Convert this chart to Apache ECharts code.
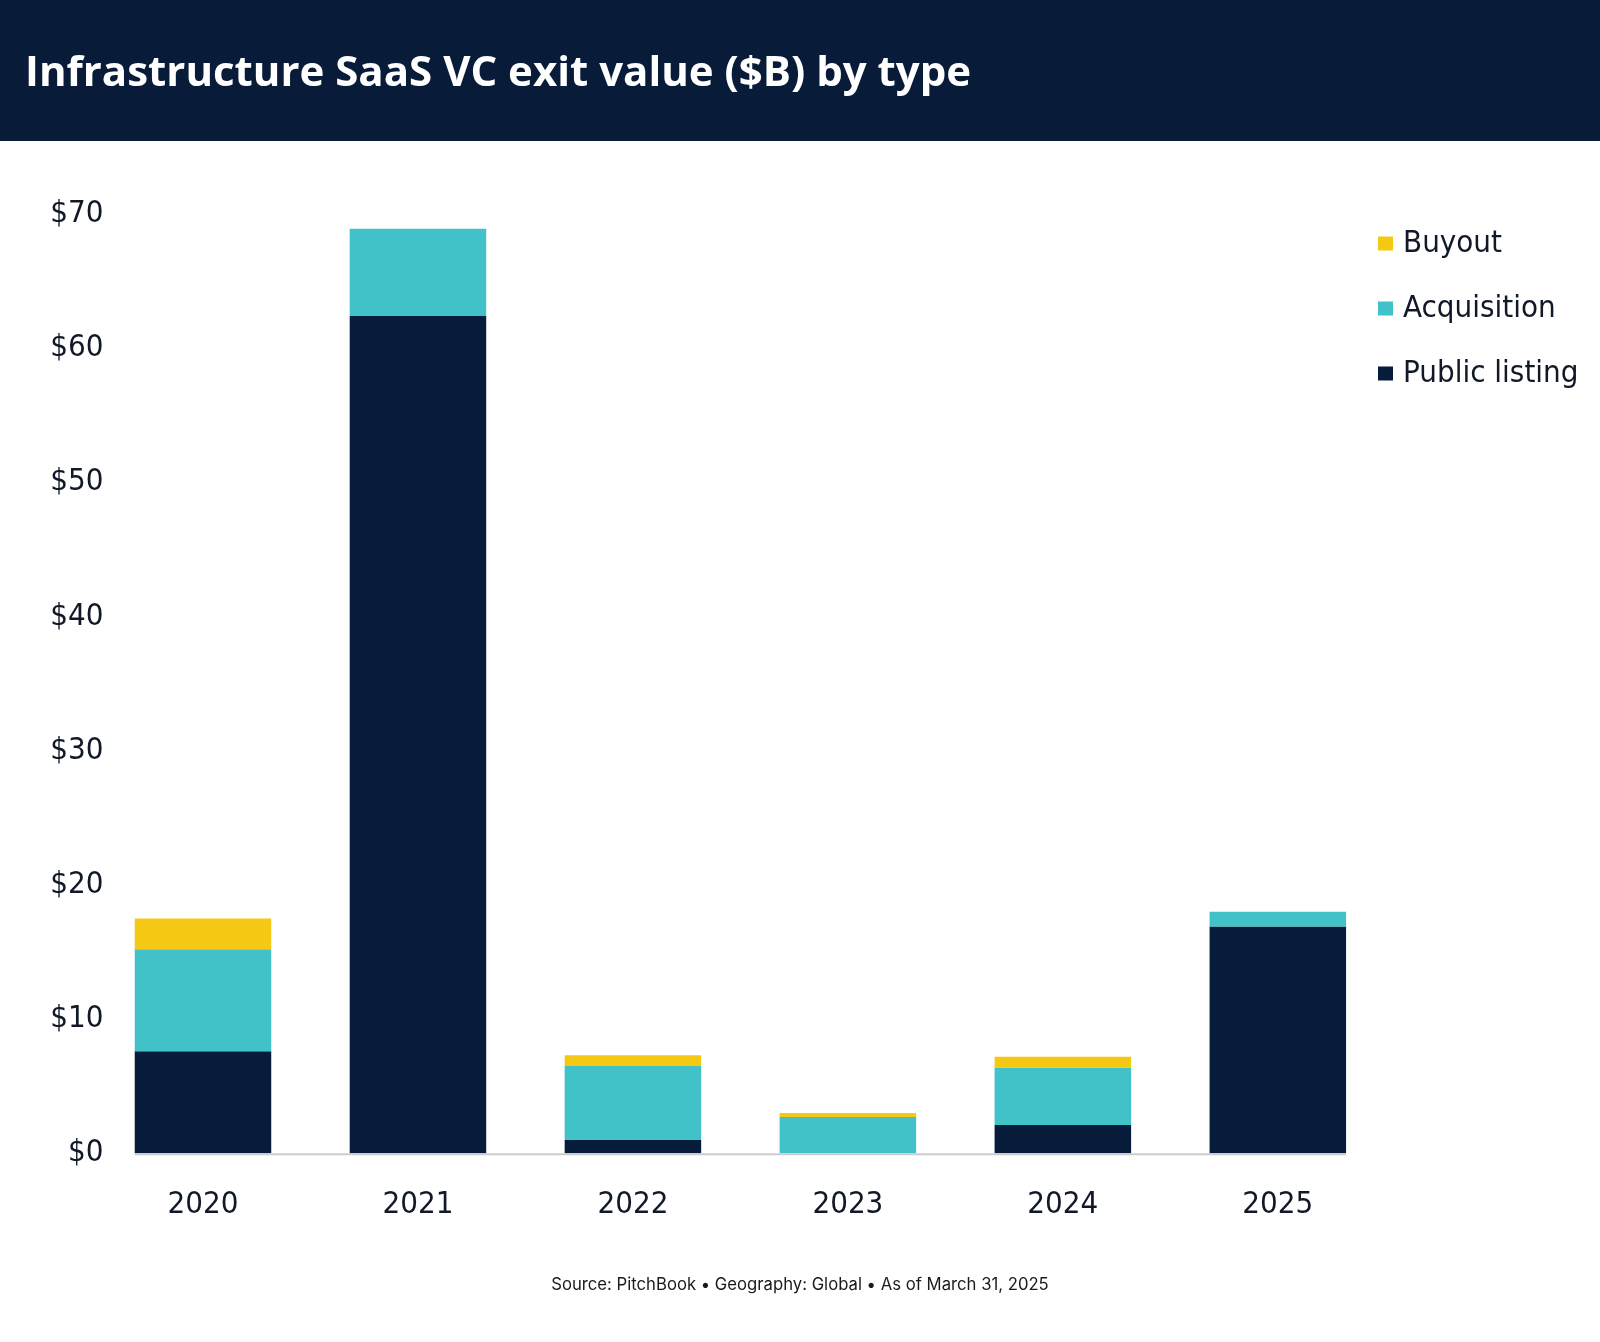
<!DOCTYPE html>
<html>
<head>
<meta charset="utf-8">
<script src="https://cdn.jsdelivr.net/npm/echarts@6/dist/echarts.min.js"></script>
<style>
html,body{margin:0;padding:0;background:#fff;}
#c{width:1600px;height:1342px;}
</style>
</head>
<body>
<div id="c"></div>
<script>
const titleText = 'Infrastructure SaaS VC exit value ($B) by type';
const sourceText = 'Source: PitchBook \u2022 Geography: Global \u2022 As of March 31, 2025';
const years = ['2020', '2021', '2022', '2023', '2024', '2025'];
const publicListing = [7.6, 62.4, 1.0, 0, 2.1, 16.9];
const acquisition = [7.6, 6.5, 5.5, 2.7, 4.3, 1.1];
const buyout = [2.3, 0, 0.8, 0.3, 0.8, 0];
const seriesNames = ['Public listing', 'Acquisition', 'Buyout'];
const legendOrder = ['Buyout', 'Acquisition', 'Public listing'];
const yMin = 0, yMax = 70, yStep = 10;

const NAVY = '#071b3a', TEAL = '#41c2c8', YELLOW = '#f5c813';
const NARROW = "'Liberation Sans Narrow', 'DejaVu Sans Condensed', sans-serif";
const BAR_W = 0.635;

const chart = echarts.init(document.getElementById('c'), null, {renderer: 'canvas'});
function headerGraphics(extra) {
  return [
    {type: 'rect', left: 0, top: 0, z: -10, shape: {width: 1600, height: 141}, style: {fill: '#081c3a'}},
    {type: 'text', left: 'center', top: 1276, style: {text: sourceText, fill: '#1a1a1a', font: "16.7px Inter, 'Noto Sans', sans-serif"}}
  ].concat(extra || []);
}
const option = {
  backgroundColor: '#ffffff',
  animation: false,
  title: {
    text: titleText,
    left: 20,
    top: 41,
    textStyle: {color: '#ffffff', fontFamily: "'Open Sans', sans-serif", fontWeight: 700, fontSize: 42, lineHeight: 56}
  },
  legend: {
    orient: 'vertical',
    left: 1373,
    top: 223,
    itemWidth: 15,
    itemHeight: 14,
    itemGap: 34,
    icon: 'rect',
    data: legendOrder,
    textStyle: {color: '#111827', fontFamily: NARROW, fontSize: 31, lineHeight: 31, padding: [0, 0, 0, 5]}
  },
  grid: {left: 95.5, right: 214.7, top: 214, bottom: 188.7, containLabel: false},
  xAxis: {
    type: 'category',
    data: years,
    axisLine: {show: false},
    axisTick: {show: false},
    axisLabel: {color: '#111827', fontFamily: NARROW, fontSize: 31, margin: 36}
  },
  yAxis: {
    type: 'value',
    min: yMin, max: yMax, interval: yStep,
    splitLine: {show: false},
    axisLine: {show: false},
    axisTick: {show: false},
    axisLabel: {color: '#111827', fontFamily: NARROW, fontSize: 31, margin: -8, formatter: v => '$' + v}
  },
  series: [
    {name: seriesNames[0], type: 'bar', stack: 'total', data: publicListing, barWidth: (BAR_W * 100) + '%', itemStyle: {color: NAVY}},
    {name: seriesNames[1], type: 'bar', stack: 'total', data: acquisition, barWidth: (BAR_W * 100) + '%', itemStyle: {color: TEAL}},
    {name: seriesNames[2], type: 'bar', stack: 'total', data: buyout, barWidth: (BAR_W * 100) + '%', itemStyle: {color: YELLOW}}
  ],
  graphic: headerGraphics()
};
chart.setOption(option);

// baseline spanning from first bar's left edge to last bar's right edge
const c0 = chart.convertToPixel({xAxisIndex: 0}, years[0]);
const c1 = chart.convertToPixel({xAxisIndex: 0}, years[1]);
const cN = chart.convertToPixel({xAxisIndex: 0}, years[years.length - 1]);
const band = c1 - c0;
const y0 = chart.convertToPixel({yAxisIndex: 0}, 0);
chart.setOption({
  graphic: headerGraphics([
    {type: 'line', z: 5, shape: {x1: c0 - band * BAR_W / 2, y1: y0 + 1, x2: cN + band * BAR_W / 2, y2: y0 + 1}, style: {stroke: '#cccccc', lineWidth: 2}}
  ])
});
</script>
</body>
</html>
